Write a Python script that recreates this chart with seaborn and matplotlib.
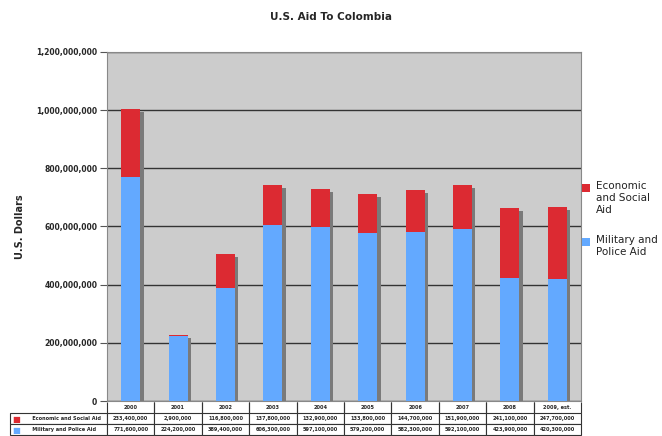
import numpy as np
import pandas as pd
import matplotlib
matplotlib.use("Agg")
import matplotlib.pyplot as plt
import matplotlib.patheffects as pe
from matplotlib.patches import Rectangle
from matplotlib.ticker import FuncFormatter
import seaborn as sns

# data
years = ['2000', '2001', '2002', '2003', '2004', '2005', '2006', '2007', '2008', '2009, est.']
military = [771600000, 224200000, 389400000, 606300000, 597100000, 579200000, 582300000, 592100000, 423900000, 420300000]
economic = [233400000, 2900000, 116800000, 137800000, 132900000, 133800000, 144700000, 151900000, 241100000, 247700000]
series_names = ['Economic\nand Social\nAid', 'Military and\nPolice Aid']

red = '#DC2A32'
blue = '#63A9FF'

df = pd.DataFrame({'Year': years, 'Military': military, 'Economic': economic})
df['Total'] = df['Military'] + df['Economic']

sns.set_style("white")
plt.rcParams['font.family'] = ['DejaVu Sans']

fig = plt.figure(figsize=(6.62, 4.36), dpi=100)
ax = fig.add_axes([107 / 662, 35 / 436, 474 / 662, 349 / 436])
ax.set_facecolor('#CCCCCC')

# stacked bars: total (red) behind, military (blue) in front
sns.barplot(data=df, x='Year', y='Total', color=red, saturation=1, width=0.4,
            linewidth=0, edgecolor='none', ax=ax, zorder=3)
n_red = len(ax.patches)
for p in ax.patches[:n_red]:
    p.set_path_effects([pe.SimplePatchShadow(offset=(2.5, -2.5), shadow_rgbFace='#7a7a7a', alpha=1), pe.Normal()])
sns.barplot(data=df, x='Year', y='Military', color=blue, saturation=1, width=0.4,
            linewidth=0, edgecolor='none', ax=ax, zorder=4)

ax.set_ylim(0, 1200000000)
ax.set_yticks(np.arange(0, 1200000001, 200000000))
ax.yaxis.set_major_formatter(FuncFormatter(lambda v, _: f'{int(v):,}'))
ax.grid(axis='y', color='#333333', linewidth=1, zorder=1)
ax.set_axisbelow(True)
ax.tick_params(axis='y', labelsize=5.5, length=5, width=0.8, color='#555555', direction='out', left=True, pad=2)
for lbl in ax.get_yticklabels():
    lbl.set_fontweight('bold')
ax.set_xticks([])
ax.set_xlabel('')
ax.set_ylabel('U.S. Dollars', fontsize=7, fontweight='bold', labelpad=8)
for s in ax.spines.values():
    s.set_color('#888888')
    s.set_linewidth(0.8)

fig.text(0.5, 0.96, 'U.S. Aid To Colombia', ha='center', va='center', fontsize=7.5, fontweight='bold')

# data table under the axes
lab_w = 97 / 474
cell_text = [['       Economic and Social Aid'] + [f'{v:,}' for v in economic],
             ['       Military and Police Aid'] + [f'{v:,}' for v in military]]
col_labels = [''] + years
widths = [lab_w] + [1 / len(years)] * len(years)
tab = ax.table(cellText=cell_text, colLabels=col_labels, colWidths=widths,
               cellLoc='center', bbox=[-lab_w, -34 / 349, 1 + lab_w, 33 / 349])
tab.auto_set_font_size(False)
for (r, c), cell in tab.get_celld().items():
    cell.set_linewidth(0.8)
    cell.set_edgecolor('#333333')
    cell.get_text().set_fontsize(3.6)
    cell.get_text().set_fontweight('bold')
    if c == 0:
        cell.get_text().set_ha('left')
        cell._loc = 'left'
    if r == 0 and c == 0:
        cell.visible_edges = ''
    elif r == 0:
        cell.visible_edges = 'LR'

# swatches in the row label cells
fig.text(12 / 662, 1 - 419 / 436, '■', color=red, fontsize=6, va='center')
fig.text(12 / 662, 1 - 430 / 436, '■', color=blue, fontsize=6, va='center')

# legend on the right, handle level with the first line of each label
for name, col, top in zip(series_names, [red, blue], [181, 235]):
    fig.patches.append(Rectangle((582 / 662, 1 - (top + 11) / 436), 8 / 662, 8 / 436,
                                 transform=fig.transFigure, facecolor=col, edgecolor='none'))
    fig.text(596 / 662, 1 - top / 436, name, ha='left', va='top', fontsize=7.5,
             color='#222222', linespacing=1.25)

fig.savefig('out.png', dpi=100)
